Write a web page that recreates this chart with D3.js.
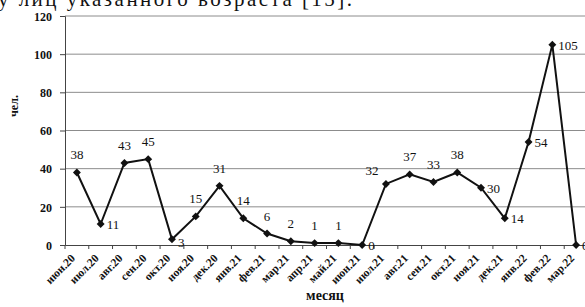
<!DOCTYPE html>
<html>
<head>
<meta charset="utf-8">
<script src="https://cdn.jsdelivr.net/npm/d3@7"></script>
<style>
  body { margin: 0; background: #fff; }
  svg text { font-family: "Liberation Serif", "DejaVu Serif", serif !important; }
</style>
</head>
<body>
<div id="chart"></div>
<script>
const months = ["июн.20", "июл.20", "авг.20", "сен.20", "окт.20", "ноя.20", "дек.20", "янв.21", "фев.21", "мар.21", "апр.21",
  "май.21", "июн.21", "июл.21", "авг.21", "сен.21", "окт.21", "ноя.21", "дек.21", "янв.22", "фев.22", "мар.22"]
const values = [38, 11, 43, 45, 3, 15, 31, 14, 6, 2, 1, 1, 0, 32, 37, 33, 38, 30, 14, 54, 105, 0]
const yTicks = [0, 20, 40, 60, 80, 100, 120]
const caption = "у лиц указанного возраста [15]."

const width = 585, height = 307
const margin = { top: 16, right: -3, bottom: 62, left: 65 }
const innerW = width - margin.left - margin.right
const innerH = height - margin.top - margin.bottom
const serif = "'Liberation Serif', 'DejaVu Serif', serif"

// label placement: "r" right of the marker, "rb" right and lower, "tl" above-left, default above
const labelPos = { 1: "r", 4: "rb", 12: "r", 13: "tl", 17: "r", 18: "r", 19: "r", 20: "r", 21: "r" }

const svg = d3.select("#chart").append("svg").attr("width", width).attr("height", height)
  .attr("font-family", serif)

svg.append("text").attr("x", -2).attr("y", 6).attr("font-size", 21).attr("fill", "#111")
  .attr("textLength", 354).text(caption)

const g = svg.append("g").attr("transform", `translate(${margin.left},${margin.top})`)

const x = d3.scaleBand().domain(months).range([0, innerW])
const y = d3.scaleLinear().domain([0, 120]).range([innerH, 0])

g.append("g").selectAll("line").data(yTicks.filter(d => d > 0)).join("line")
  .attr("x1", 0).attr("x2", innerW).attr("y1", d => y(d)).attr("y2", d => y(d))
  .attr("stroke", "#8c8c8c").attr("stroke-width", 1)

const yAxis = g.append("g").call(d3.axisLeft(y).tickValues(yTicks).tickSize(5).tickPadding(8))
  .attr("font-family", serif)
yAxis.select(".domain").attr("stroke", "#444")
yAxis.selectAll(".tick line").attr("stroke", "#444")
yAxis.selectAll("text").attr("font-weight", "bold").attr("font-size", 12).attr("dy", "0.36em").attr("fill", "#111")

const xAxis = g.append("g").attr("transform", `translate(0,${innerH})`)
  .call(d3.axisBottom(x).tickSize(0).tickFormat(""))
xAxis.select(".domain").attr("stroke", "#444")
g.append("g").selectAll("line").data(months).join("line")
  .attr("x1", d => x(d)).attr("x2", d => x(d)).attr("y1", innerH).attr("y2", innerH + 4)
  .attr("stroke", "#444")

g.append("g").selectAll("text").data(months).join("text")
  .attr("transform", d => `translate(${x(d) + x.bandwidth() / 2 - 1},${innerH + 14}) rotate(-45)`)
  .attr("text-anchor", "end").attr("font-weight", "bold").attr("font-size", 11.5).attr("fill", "#111")
  .text(d => d)

const pts = months.map((m, i) => ({ m, v: values[i], i }))
const line = d3.line().x(d => x(d.m) + x.bandwidth() / 2).y(d => y(d.v))
g.append("path").datum(pts).attr("fill", "none").attr("stroke", "#111").attr("stroke-width", 2).attr("d", line)

g.append("g").selectAll("path").data(pts).join("path")
  .attr("transform", d => `translate(${x(d.m) + x.bandwidth() / 2},${y(d.v)})`)
  .attr("d", d3.symbol(d3.symbolDiamond2, 40)).attr("fill", "#111")

g.append("g").selectAll("text").data(pts).join("text")
  .attr("font-size", 13).attr("fill", "#111")
  .attr("x", d => {
    const cx = x(d.m) + x.bandwidth() / 2, p = labelPos[d.i]
    return p === "r" || p === "rb" ? cx + 6 : p === "tl" ? cx - 14 : cx
  })
  .attr("y", d => {
    const cy = y(d.v), p = labelPos[d.i]
    return p === "r" ? cy + 5 : p === "rb" ? cy + 8 : p === "tl" ? cy - 9 : cy - 13
  })
  .attr("text-anchor", d => labelPos[d.i] === "tl" ? "middle" : labelPos[d.i] ? "start" : "middle")
  .text(d => d.v)

svg.append("text").attr("transform", "translate(18,106) rotate(-90)").attr("text-anchor", "middle")
  .attr("font-weight", "bold").attr("font-size", 12).attr("fill", "#111").text("чел.")

svg.append("text").attr("x", 325).attr("y", 300).attr("text-anchor", "middle")
  .attr("font-weight", "bold").attr("font-size", 14).attr("fill", "#111").text("месяц")
</script>
</body>
</html>
